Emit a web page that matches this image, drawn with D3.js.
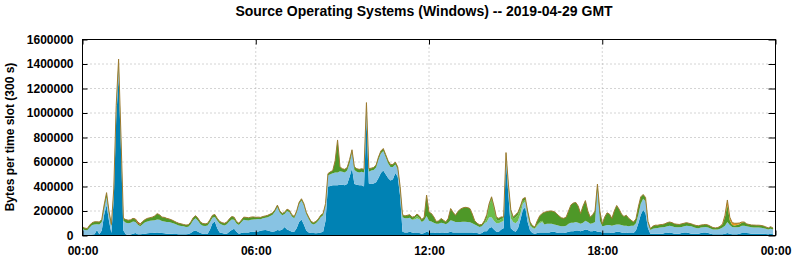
<!DOCTYPE html>
<html>
<head>
<meta charset="utf-8">
<script src="https://cdn.jsdelivr.net/npm/d3@7"></script>
<style>
  body { margin: 0; background: #fff; }
  svg text { font-family: "Liberation Sans", Arial, Helvetica, sans-serif; font-weight: bold; fill: #000; }
</style>
</head>
<body>
<div id="chart"></div>
<script>
// 5 minute slots over the day, values in thousands of bytes, one row per hour
var win10 = [
  2,2,2,5,8,10,45,10,40,170,248,120,
  20,300,950,1300,700,40,10,5,8,15,20,10,
  10,12,15,18,20,20,22,25,22,20,18,15,
  15,15,12,12,10,10,10,10,12,20,35,40,
  30,20,15,12,15,50,100,115,60,25,20,15,
  15,30,45,55,30,15,20,25,25,25,30,30,
  30,32,38,42,45,40,35,30,35,45,40,50,
  70,50,40,30,30,60,110,130,90,40,25,20,
  20,18,20,25,30,120,400,405,410,410,410,415,
  415,410,420,480,550,420,415,410,410,400,950,425,
  420,425,435,470,510,530,500,470,450,460,510,480,
  320,30,25,25,30,25,20,20,20,15,20,30,
  25,25,25,20,20,25,25,20,25,30,25,25,
  25,25,25,25,25,25,25,20,20,15,20,35,
  35,60,70,50,30,30,50,60,600,330,60,40,
  30,60,130,210,230,110,40,20,15,20,25,25,
  25,25,25,30,30,25,20,20,20,25,30,35,
  35,40,40,35,40,50,45,35,35,40,30,30,
  25,25,25,25,20,25,30,30,25,20,25,20,
  20,20,40,100,170,210,180,60,15,15,15,15,
  15,15,20,20,25,20,15,15,15,20,25,25,
  20,15,15,15,15,20,25,25,20,15,10,10,
  10,10,10,15,20,15,10,10,10,15,20,20,
  20,18,15,15,15,15,15,15,12,10,15,10
];

var win7 = [
  50,43,40,60,77,80,47,80,70,50,67,60,
  52,60,80,100,70,80,95,95,97,100,90,78,
  65,80,93,97,100,102,103,105,106,98,97,95,
  95,90,86,78,72,68,65,60,60,72,90,100,
  90,72,65,66,67,60,45,37,62,73,68,67,
  77,85,85,73,68,70,88,103,100,97,98,100,
  103,103,95,98,100,110,125,140,160,187,145,115,
  105,150,150,125,110,125,145,155,155,135,110,80,
  70,82,100,125,135,125,90,95,98,105,105,110,
  105,105,110,110,130,115,105,105,110,115,110,95,
  110,110,120,150,160,160,140,120,110,100,70,60,
  60,120,115,115,115,103,110,120,112,95,105,130,
  95,90,80,75,75,80,75,72,80,95,93,85,
  85,85,87,87,85,83,75,70,60,55,55,65,
  75,90,80,70,70,70,60,60,50,70,80,70,
  70,60,50,50,50,60,40,40,40,60,75,85,
  65,70,70,65,60,60,60,55,55,55,65,70,
  70,70,65,60,65,70,65,60,65,70,350,90,
  50,55,60,60,60,60,60,60,60,60,55,55,
  60,60,60,70,90,90,100,40,30,40,45,47,
  50,53,50,55,55,55,55,53,53,50,50,55,
  58,60,53,47,45,45,43,45,45,43,40,38,
  40,45,55,65,90,70,60,58,58,55,60,60,
  55,54,53,51,50,50,49,45,43,40,40,38
];

var win81 = [
  0,0,0,0,0,0,0,0,0,0,0,0,
  0,0,0,0,0,0,0,0,0,0,0,0,
  0,0,0,0,0,0,0,0,0,0,0,0,
  0,0,0,0,0,0,0,0,0,0,0,0,
  0,0,0,0,0,0,0,0,0,0,0,0,
  0,0,0,0,0,0,0,0,0,0,0,0,
  0,0,0,0,0,0,0,0,0,0,0,0,
  0,0,0,0,0,0,0,0,0,0,0,0,
  0,0,0,0,0,0,0,0,0,0,0,0,
  0,0,0,0,0,0,0,0,0,0,0,0,
  0,0,0,0,0,0,0,0,0,0,0,0,
  0,0,0,0,0,0,10,20,10,0,0,0,
  0,0,0,0,0,0,0,0,0,0,0,0,
  0,0,0,0,0,0,0,0,0,0,0,0,
  30,90,150,100,30,20,25,20,10,10,50,25,
  50,50,40,20,10,10,10,5,5,10,10,10,
  0,0,0,0,0,0,0,0,0,0,0,0,
  0,0,0,0,0,0,0,0,0,0,0,0,
  0,0,0,0,0,0,0,0,0,0,0,0,
  0,0,0,0,0,0,0,0,0,0,0,0,
  0,0,0,0,0,0,0,0,0,0,0,0,
  0,0,0,0,0,0,0,0,0,0,0,0,
  0,0,0,0,0,0,0,0,0,0,0,0,
  0,0,0,0,0,0,0,0,0,0,0,0
];

var win8 = [
  18,15,15,20,20,22,20,20,20,30,35,20,
  18,20,30,40,30,20,25,25,23,25,20,10,
  12,23,22,25,25,28,35,48,42,32,33,30,
  25,23,20,18,18,17,15,15,16,18,20,22,
  20,18,18,17,18,20,20,20,18,17,17,18,
  18,20,25,22,17,15,17,22,23,23,22,22,
  15,15,15,15,15,15,15,15,15,16,15,15,
  15,15,15,15,15,15,15,15,15,15,15,15,
  15,15,15,15,15,15,15,20,22,95,265,35,
  25,25,25,30,20,25,25,25,25,25,25,25,
  20,20,20,20,20,20,20,20,20,20,20,20,
  20,20,20,25,25,22,15,15,18,20,25,170,
  70,65,47,20,23,34,25,19,35,95,72,55,
  85,105,113,118,118,112,75,30,20,18,15,20,
  30,20,16,20,20,20,17,10,17,10,20,15,
  20,20,20,20,20,20,20,15,10,30,50,60,
  100,100,105,105,105,95,80,70,65,70,105,145,
  160,160,135,85,135,165,90,55,70,90,40,80,
  20,70,100,90,60,115,155,125,90,75,85,65,
  45,30,35,64,55,35,30,15,12,21,24,22,
  23,22,25,30,30,30,25,24,22,25,25,25,
  22,20,20,20,20,20,20,20,20,17,15,14,
  15,20,27,70,140,40,15,14,17,22,25,30,
  20,18,18,19,19,19,18,18,15,12,17,12
];

var winOther = [
  0,0,0,0,0,0,0,0,0,0,0,0,
  0,0,0,0,0,0,0,0,0,0,0,0,
  0,0,0,0,0,0,0,0,0,0,0,0,
  0,0,0,0,0,0,0,0,0,0,0,0,
  0,0,0,0,0,0,0,0,0,0,0,0,
  0,0,0,0,0,0,0,0,0,0,0,0,
  0,0,0,0,0,0,0,0,0,0,0,0,
  0,0,0,0,0,0,0,0,0,0,0,0,
  0,0,0,0,0,0,0,0,0,0,0,0,
  0,0,0,0,0,0,0,0,0,0,0,0,
  0,0,0,0,0,0,0,0,0,0,0,0,
  0,0,0,0,0,0,0,0,0,0,0,0,
  0,0,0,0,0,0,0,0,0,0,0,0,
  0,0,0,0,0,0,0,0,0,0,0,0,
  0,0,0,0,0,0,0,0,0,0,0,0,
  0,0,0,0,0,0,0,0,0,0,0,0,
  0,0,0,0,0,0,0,0,0,0,0,0,
  0,0,0,0,0,0,0,0,0,0,0,0,
  0,0,0,0,0,0,0,0,0,0,0,0,
  0,0,0,0,0,0,0,0,0,0,0,0,
  0,0,0,0,0,0,0,0,0,0,0,0,
  0,0,0,0,0,0,0,0,0,0,0,0,
  0,0,3,15,40,25,20,18,15,10,5,0,
  0,0,0,0,0,0,0,0,0,0,0,0
];

var winXP = [
  0,0,0,0,0,0,0,0,0,0,0,0,
  0,0,0,0,0,0,0,0,0,0,5,12,
  8,0,0,0,0,0,0,0,0,0,0,0,
  0,0,0,0,0,0,0,0,0,0,0,0,
  0,0,0,0,0,0,0,0,0,0,0,0,
  0,0,0,0,0,0,0,0,0,0,0,0,
  0,0,0,0,0,0,0,0,0,0,0,0,
  0,0,0,0,0,0,0,0,0,0,0,0,
  0,0,0,0,0,0,0,0,0,0,0,0,
  0,0,0,0,0,0,0,0,0,0,0,0,
  0,0,0,0,0,0,0,0,0,0,0,0,
  0,0,0,0,0,0,0,0,0,0,0,0,
  0,0,0,0,0,0,0,0,0,0,0,0,
  0,0,0,0,0,0,0,0,0,0,0,0,
  0,0,0,0,0,0,0,0,0,0,0,0,
  0,0,0,0,0,0,0,0,0,0,0,0,
  0,0,0,0,0,0,0,0,0,0,0,0,
  0,0,0,0,0,0,0,0,0,0,0,0,
  0,0,0,0,0,0,0,0,0,0,0,0,
  0,0,0,0,0,0,0,0,0,0,0,0,
  0,0,0,0,0,0,0,0,0,0,0,0,
  0,0,0,0,0,0,0,0,0,0,0,0,
  0,0,0,0,0,0,0,0,0,0,0,0,
  0,0,0,0,0,0,0,0,0,0,0,0
];

var yTicks = [0, 200000, 400000, 600000, 800000, 1000000, 1200000, 1400000, 1600000];
var title = 'Source Operating Systems (Windows) -- 2019-04-29 GMT';
var yLabel = 'Bytes per time slot (300 s)';

var width = 795, height = 260;
var margin = {top: 39, right: 20, bottom: 25, left: 82};
var w = 693, h = 196;

var keys = ['win10', 'win7', 'win81', 'win8', 'winOther', 'winXP'];
var series = {win10: win10, win7: win7, win81: win81, win8: win8, winOther: winOther, winXP: winXP};
var color = d3.scaleOrdinal()
  .domain(keys)
  .range(['#0082b4', '#88c3e3', '#6cbd4a', '#4e9828', '#e89820', '#c83a10']);

var day = Date.UTC(2019, 3, 29);
var table = win10.map(function(v, i) {
  var row = {time: new Date(day + i * 300000)};
  keys.forEach(function(k) { row[k] = series[k][i] * 1000; });
  return row;
});

var x = d3.scaleUtc()
  .domain([new Date(day), new Date(day + 86400000)])
  .range([0, w]);
var y = d3.scaleLinear()
  .domain([0, 1600000])
  .range([h, 0]);

var svg = d3.select('#chart')
  .append('svg')
  .attr('width', width)
  .attr('height', height);

var g = svg.append('g')
  .attr('transform', 'translate(' + (margin.left + 0.5) + ',' + (margin.top + 0.5) + ')');

// grid
g.append('g')
  .selectAll('line.hg')
  .data(yTicks.slice(1, -1))
  .enter().append('line')
  .attr('x1', 0).attr('x2', w)
  .attr('y1', function(d) { return y(d); })
  .attr('y2', function(d) { return y(d); })
  .attr('stroke', '#a8a8a8')
  .attr('stroke-dasharray', '1,3');

var xTicks = x.ticks(d3.utcHour.every(6));
g.append('g')
  .selectAll('line.vg')
  .data(xTicks.slice(1, -1))
  .enter().append('line')
  .attr('y1', 0).attr('y2', h)
  .attr('x1', function(d) { return x(d); })
  .attr('x2', function(d) { return x(d); })
  .attr('stroke', '#a8a8a8')
  .attr('stroke-dasharray', '1,3');

var stacked = d3.stack().keys(keys)(table);

var area = d3.area()
  .x(function(d) { return x(d.data.time); })
  .y0(function(d) { return y(d[0]); })
  .y1(function(d) { return y(d[1]); });

g.selectAll('path.layer')
  .data(stacked)
  .enter().append('path')
  .attr('class', 'layer')
  .attr('d', area)
  .attr('fill', function(d) { return color(d.key); });

// thin outline along the top of the stack
var topLine = d3.line()
  .x(function(d) { return x(d.data.time); })
  .y(function(d) { return y(d[1]); });
g.append('path')
  .attr('d', topLine(stacked[stacked.length - 1]))
  .attr('fill', 'none')
  .attr('stroke', '#9c7a2e')
  .attr('stroke-width', 1);

// axes, ticks pointing inward
var yAxis = g.append('g')
  .call(d3.axisLeft(y).tickValues(yTicks).tickFormat(d3.format('d')).tickSize(-5).tickPadding(9));
g.append('g')
  .attr('transform', 'translate(' + w + ',0)')
  .call(d3.axisRight(y).tickValues(yTicks).tickFormat('').tickSize(-7));
var xAxis = g.append('g')
  .attr('transform', 'translate(0,' + h + ')')
  .call(d3.axisBottom(x).tickValues(xTicks).tickFormat(d3.utcFormat('%H:%M')).tickSize(-5).tickPadding(11));
g.append('g')
  .call(d3.axisTop(x).tickValues(xTicks).tickFormat('').tickSize(-5));

g.selectAll('.domain').remove();
g.selectAll('.tick line').attr('stroke', '#000');
g.selectAll('.tick text')
  .style('font-size', '12px')
  .style('font-family', '"Liberation Sans", Arial, sans-serif')
  .style('font-weight', 'bold');

g.append('rect')
  .attr('width', w)
  .attr('height', h)
  .attr('fill', 'none')
  .attr('stroke', '#000');

svg.append('text')
  .attr('x', 424)
  .attr('y', 16)
  .attr('text-anchor', 'middle')
  .style('font-size', '14px')
  .text(title);

svg.append('text')
  .attr('transform', 'translate(14,' + 137 + ') rotate(-90)')
  .attr('text-anchor', 'middle')
  .style('font-size', '12px')
  .text(yLabel);
</script>
</body>
</html>
